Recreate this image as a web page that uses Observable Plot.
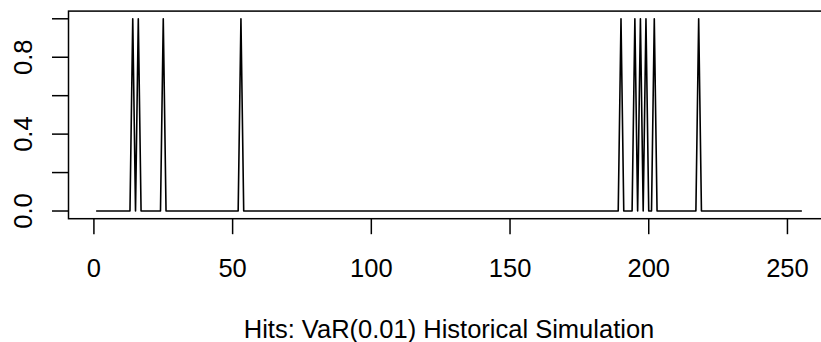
<!DOCTYPE html>
<html><head><meta charset="utf-8">
<script src="https://cdn.jsdelivr.net/npm/d3@7"></script>
<script src="https://cdn.jsdelivr.net/npm/@observablehq/plot@0.6"></script>
<style>
html,body{margin:0;padding:0;background:#fff;overflow:hidden}
#chart svg{display:block;overflow:hidden}
</style>
</head><body><div id="chart"></div>
<script>
// Daily VaR(0.01) hit indicator, days 1..255 (1 = exceedance)
const hits = [
  0,0,0,0,0,0,0,0,0,0,0,0,0,1,0,1,0,0,0,0,
  0,0,0,0,1,0,0,0,0,0,0,0,0,0,0,0,0,0,0,0,
  0,0,0,0,0,0,0,0,0,0,0,0,1,0,0,0,0,0,0,0,
  0,0,0,0,0,0,0,0,0,0,0,0,0,0,0,0,0,0,0,0,
  0,0,0,0,0,0,0,0,0,0,0,0,0,0,0,0,0,0,0,0,
  0,0,0,0,0,0,0,0,0,0,0,0,0,0,0,0,0,0,0,0,
  0,0,0,0,0,0,0,0,0,0,0,0,0,0,0,0,0,0,0,0,
  0,0,0,0,0,0,0,0,0,0,0,0,0,0,0,0,0,0,0,0,
  0,0,0,0,0,0,0,0,0,0,0,0,0,0,0,0,0,0,0,0,
  0,0,0,0,0,0,0,0,0,1,0,0,0,0,1,0,1,0,1,0,
  0,1,0,0,0,0,0,0,0,0,0,0,0,0,0,0,0,1,0,0,
  0,0,0,0,0,0,0,0,0,0,0,0,0,0,0,0,0,0,0,0,
  0,0,0,0,0,0,0,0,0,0,0,0,0,0,0
];
const xTicks = [0, 50, 100, 150, 200, 250];
const yTicks = [0, 0.2, 0.4, 0.6, 0.8, 1.0];
const yTickLabels = ["0.0", "", "0.4", "", "0.8", ""];
const xLabel = "Hits: VaR(0.01) Historical Simulation";

const data = hits.map((v, i) => ({day: i + 1, hit: v}));
const n = hits.length;
const xPad = (n - 1) * 0.04;
const yLabelFor = new Map(yTicks.map((t, i) => [t, yTickLabels[i]]));

const plot = Plot.plot({
  width: 821,
  height: 342,
  marginLeft: 68,
  marginRight: -8,
  marginTop: 10.6,
  marginBottom: 123.8,
  style: {
    fontFamily: "'Liberation Sans', Arial, Helvetica, sans-serif",
    fontSize: "25.5px",
    background: "#fff",
    color: "#000"
  },
  x: {domain: [1 - xPad, n + xPad]},
  y: {domain: [-0.04, 1.04]},
  marks: [
    Plot.frame({stroke: "#000", strokeWidth: 1.5}),
    Plot.line(data, {x: "day", y: "hit", stroke: "#000", strokeWidth: 1.6}),
    Plot.axisX({ticks: xTicks, tickSize: 16, tickPadding: 24, strokeWidth: 1.5, label: null, tickFormat: d => String(d)}),
    Plot.axisY({ticks: yTicks, tickSize: 16, strokeWidth: 1.5, label: null, tickFormat: () => ""}),
    Plot.axisY({ticks: yTicks, tickSize: 0, tickPadding: 45, label: null,
      rotate: -90, textAnchor: "middle", tickFormat: d => yLabelFor.get(d)}),
    Plot.text([xLabel], {text: d => d, frameAnchor: "bottom", lineAnchor: "top", dy: 101, fill: "#000"})
  ]
});
document.getElementById("chart").appendChild(plot);
</script>
</body></html>
